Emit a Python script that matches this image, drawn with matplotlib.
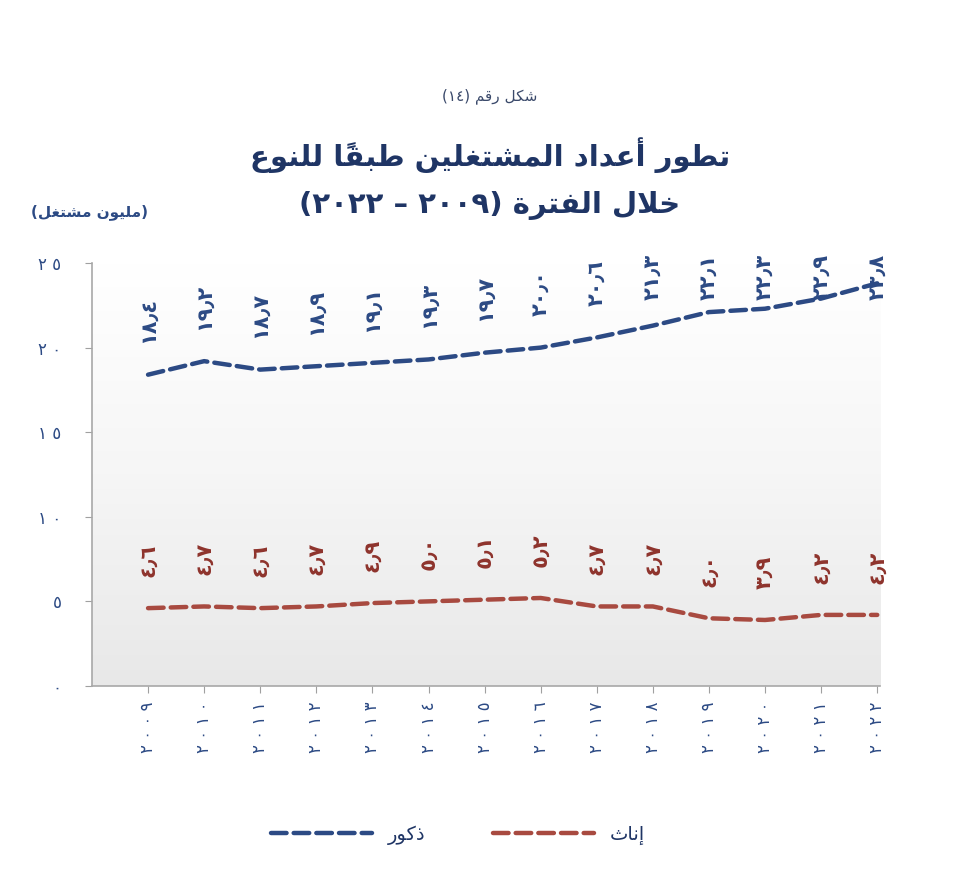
import numpy as np
import matplotlib
matplotlib.use('Agg')
import matplotlib.pyplot as plt
from matplotlib.colors import LinearSegmentedColormap
from matplotlib.lines import Line2D

# البيانات (مليون مشتغل)
years = [2009, 2010, 2011, 2012, 2013, 2014, 2015, 2016, 2017, 2018, 2019, 2020, 2021, 2022]
males = [18.4, 19.2, 18.7, 18.9, 19.1, 19.3, 19.7, 20.0, 20.6, 21.3, 22.1, 22.3, 22.9, 23.8]
females = [4.6, 4.7, 4.6, 4.7, 4.9, 5.0, 5.1, 5.2, 4.7, 4.7, 4.0, 3.9, 4.2, 4.2]
y_ticks = [0, 5, 10, 15, 20, 25]
series_names = ['ذكور', 'إناث']

fig_label = 'شكل رقم (١٤)'
title_1 = 'تطور أعداد المشتغلين طبقًا للنوع'
title_2 = 'خلال الفترة (٢٠٠٩ – ٢٠٢٢)'
unit_label = '(مليون مشتغل)'

BLUE = '#2c4a84'
RED = '#a84a40'
RED_TXT = '#8e332c'
NAVY = '#1f3565'

# matplotlib لا يربط الحروف العربية: نربطها هنا ونعكس الترتيب
FORMS = {
    'ا': (0xFE8D, 0xFE8E), 'أ': (0xFE83, 0xFE84), 'إ': (0xFE87, 0xFE88),
    'د': (0xFEA9, 0xFEAA), 'ذ': (0xFEAB, 0xFEAC), 'ر': (0xFEAD, 0xFEAE),
    'و': (0xFEED, 0xFEEE), 'ة': (0xFE93, 0xFE94),
    'ب': (0xFE8F, 0xFE90, 0xFE91, 0xFE92), 'ت': (0xFE95, 0xFE96, 0xFE97, 0xFE98),
    'ث': (0xFE99, 0xFE9A, 0xFE9B, 0xFE9C), 'خ': (0xFEA5, 0xFEA6, 0xFEA7, 0xFEA8),
    'ش': (0xFEB5, 0xFEB6, 0xFEB7, 0xFEB8), 'ط': (0xFEC1, 0xFEC2, 0xFEC3, 0xFEC4),
    'ع': (0xFEC9, 0xFECA, 0xFECB, 0xFECC), 'غ': (0xFECD, 0xFECE, 0xFECF, 0xFED0),
    'ف': (0xFED1, 0xFED2, 0xFED3, 0xFED4), 'ق': (0xFED5, 0xFED6, 0xFED7, 0xFED8),
    'ك': (0xFED9, 0xFEDA, 0xFEDB, 0xFEDC), 'ل': (0xFEDD, 0xFEDE, 0xFEDF, 0xFEE0),
    'م': (0xFEE1, 0xFEE2, 0xFEE3, 0xFEE4), 'ن': (0xFEE5, 0xFEE6, 0xFEE7, 0xFEE8),
    'ي': (0xFEF1, 0xFEF2, 0xFEF3, 0xFEF4),
}
LAM_ALEF = {'ا': (0xFEFB, 0xFEFC), 'أ': (0xFEF7, 0xFEF8), 'إ': (0xFEF9, 0xFEFA)}
MARKS = 'ًٌٍَُِّْ'
DIGITS = '٠١٢٣٤٥٦٧٨٩٫'
AR_DIGITS = str.maketrans('0123456789.', '٠١٢٣٤٥٦٧٨٩٫')


def shape(text):
    out = []
    n = len(text)

    def prev_joins(j):
        j -= 1
        while j >= 0 and text[j] in MARKS:
            j -= 1
        return j >= 0 and text[j] in FORMS and len(FORMS[text[j]]) == 4

    def next_letter(j):
        j += 1
        while j < n and text[j] in MARKS:
            j += 1
        return j if j < n and text[j] in FORMS else None

    i = 0
    while i < n:
        ch = text[i]
        if ch not in FORMS:
            out.append(ch)
            i += 1
            continue
        p = prev_joins(i)
        nx = next_letter(i)
        if ch == 'ل' and nx is not None and text[nx] in LAM_ALEF:
            out.append(chr(LAM_ALEF[text[nx]][1 if p else 0]))
            i = nx + 1
            continue
        f = FORMS[ch]
        fwd = len(f) == 4 and nx is not None
        if p and fwd:
            out.append(chr(f[3]))
        elif p:
            out.append(chr(f[1]))
        elif fwd:
            out.append(chr(f[2]))
        else:
            out.append(chr(f[0]))
        i += 1
    return ''.join(out)


def ar(text):
    # عكس كل الحروف ما عدا سلاسل الأرقام
    tokens = []
    for ch in shape(text):
        if ch in DIGITS and tokens and tokens[-1][0] in DIGITS:
            tokens[-1] += ch
        else:
            tokens.append(ch)
    tokens.reverse()
    mirror = {'(': ')', ')': '('}
    return ''.join(mirror.get(t, t) for t in tokens)


def num(v):
    return f'{v:.1f}'.translate(AR_DIGITS)


def spaced(s):
    return ' '.join(s)


plt.rcParams['font.family'] = ['DejaVu Sans']

fig = plt.figure(figsize=(9.64, 8.8), dpi=100)
ax = fig.add_axes([0.0954, 0.2205, 0.8175, 0.4806])

x = np.arange(len(years))
ax.set_xlim(-1, len(years) - 0.95)
ax.set_ylim(0, 25)

# خلفية متدرجة
grad = LinearSegmentedColormap.from_list('bg', ['#ffffff', '#f6f6f6', '#e8e8e8'])
ax.imshow(np.linspace(0, 1, 256).reshape(-1, 1), cmap=grad, aspect='auto',
          extent=[-1, len(years) - 0.95, 0, 25], origin='upper', zorder=0)

ax.plot(x, males, color=BLUE, lw=3.2, ls=(0, (3.5, 1.6)),
        dash_capstyle='round', zorder=3)
ax.plot(x, females, color=RED, lw=3.2, ls=(0, (3.5, 1.6)),
        dash_capstyle='round', zorder=3)

for xi, v in zip(x, males):
    ax.text(xi, min(v + 1.85, 22.8), num(v), rotation=90, ha='center', va='bottom',
            color=BLUE, fontsize=15, fontweight='bold', zorder=4)
for xi, v in zip(x, females):
    ax.text(xi, v + 1.85, num(v), rotation=90, ha='center', va='bottom',
            color=RED_TXT, fontsize=15, fontweight='bold', zorder=4)

ax.set_yticks(y_ticks)
ax.set_yticklabels([spaced(str(t).translate(AR_DIGITS)) for t in y_ticks],
                   color=BLUE, fontsize=12)
ax.set_xticks(x)
ax.set_xticklabels([spaced(str(y).translate(AR_DIGITS)) for y in years],
                   rotation=90, color=BLUE, fontsize=12)
ax.tick_params(axis='y', length=5, color='#a0a0a0', pad=17)
ax.tick_params(axis='x', length=5, color='#a0a0a0', pad=6)

for side in ['top', 'right']:
    ax.spines[side].set_visible(False)
for side in ['left', 'bottom']:
    ax.spines[side].set_color('#a8a8a8')
    ax.spines[side].set_linewidth(1.2)

# العناوين
fig.text(0.508, 0.891, ar(fig_label), ha='center', va='center',
         color='#3b4a6b', fontsize=11)
fig.text(0.508, 0.824, ar(title_1), ha='center', va='center',
         color=NAVY, fontsize=21, fontweight='bold')
fig.text(0.508, 0.767, ar(title_2), ha='center', va='center',
         color=NAVY, fontsize=21, fontweight='bold')
fig.text(0.093, 0.759, ar(unit_label), ha='center', va='center',
         color=BLUE, fontsize=11, fontweight='bold')

handles = [Line2D([], [], color=BLUE, lw=3.2, ls=(0, (3.5, 1.6)), dash_capstyle='round'),
           Line2D([], [], color=RED, lw=3.2, ls=(0, (3.5, 1.6)), dash_capstyle='round')]
leg = fig.legend(handles, [ar(s) for s in series_names], loc='center',
                 bbox_to_anchor=(0.475, 0.051), ncol=2, frameon=False,
                 handlelength=5.2, columnspacing=3.5, fontsize=14)
for t in leg.get_texts():
    t.set_color(NAVY)

fig.savefig('out.png', dpi=100)
